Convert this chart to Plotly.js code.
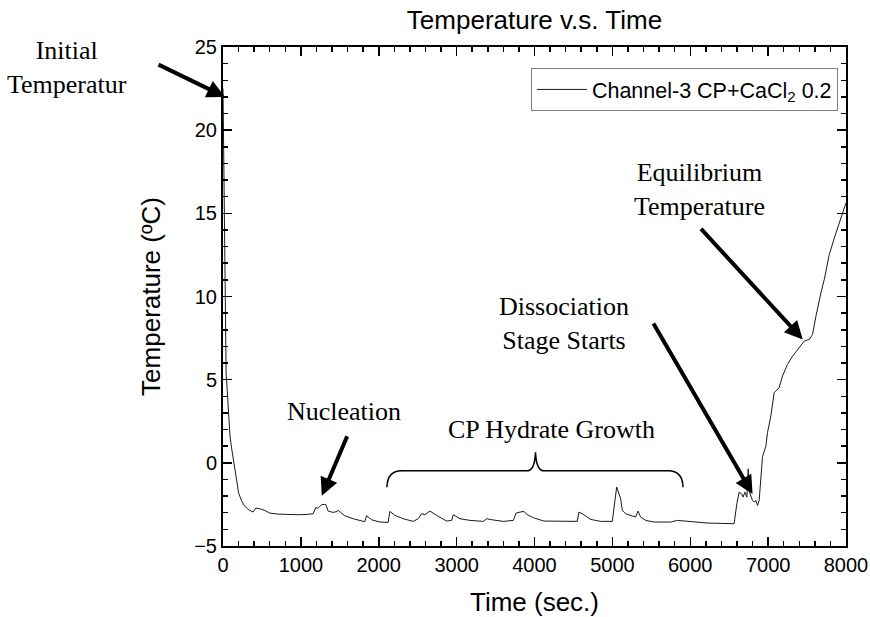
<!DOCTYPE html>
<html>
<head>
<meta charset="utf-8">
<script src="https://cdn.plot.ly/plotly-3.0.1.min.js"></script>
<style>html,body{margin:0;padding:0;background:#fff;}#chart{width:870px;height:617px;}</style>
</head>
<body>
<div id="chart"></div>
<script>
// ---- data ----
const timeSec = [0, 8, 15, 22, 30, 40, 55, 68, 90, 110, 130, 150, 171, 200, 236, 270, 300, 340, 386, 420,
  471, 536, 600, 700, 814, 900, 986, 1080, 1157, 1191, 1220, 1243, 1264, 1300, 1320, 1350, 1414, 1450, 1479, 1509,
  1564, 1671, 1750, 1821, 1843, 1907, 2014, 2121, 2143, 2207, 2314, 2443, 2507, 2550, 2593, 2657, 2743, 2871, 2936, 2957,
  3043, 3171, 3343, 3386, 3450, 3600, 3729, 3763, 3814, 3866, 3900, 3986, 4120, 4334, 4549, 4570, 4613, 4720, 4849, 4999,
  5042, 5055, 5085, 5106, 5128, 5170, 5299, 5329, 5363, 5428, 5535, 5749, 5835, 5921, 6049, 6221, 6564, 6598, 6628, 6658,
  6679, 6701, 6727, 6744, 6761, 6799, 6821, 6842, 6864, 6885, 6928, 6971, 6992, 7035, 7078, 7099, 7142, 7185, 7249, 7314,
  7399, 7464, 7528, 7571, 7614, 7657, 7678, 7721, 7785, 7850, 7914, 7957, 7999];
const tempC = [22.5, 19, 14, 10, 7.5, 5.4, 4.3, 3.4, 1.6, 0.9, 0.3, -0.4, -1.06, -1.8, -2.26, -2.55, -2.7, -2.85, -2.96, -2.72,
  -2.76, -2.86, -3.02, -3.08, -3.1, -3.12, -3.12, -3.1, -3.06, -2.7, -2.72, -2.62, -2.52, -2.5, -2.5, -2.9, -2.98, -2.94, -2.86, -2.98,
  -3.18, -3.36, -3.46, -3.54, -3.18, -3.42, -3.56, -3.58, -2.92, -3.16, -3.36, -3.52, -3.36, -3.06, -3.12, -2.9, -3.16, -3.5, -3.46, -3.12,
  -3.36, -3.46, -3.52, -3.36, -3.42, -3.52, -3.46, -3.02, -2.96, -2.92, -3.1, -3.3, -3.5, -3.52, -3.52, -2.96, -3.06, -3.4, -3.52, -3.52,
  -2.06, -1.46, -1.86, -2.16, -2.86, -3.06, -3.26, -2.9, -3.26, -3.46, -3.56, -3.56, -3.46, -3.5, -3.58, -3.62, -3.66, -2.46, -1.76, -1.86,
  -2.06, -1.76, -2.06, -0.36, -1.76, -2.26, -2.36, -2.26, -2.56, -2.26, 0.38, 1.0, 1.82, 2.82, 4.22, 4.32, 4.52, 5.22, 5.92, 6.42,
  6.92, 7.32, 7.42, 7.72, 8.82, 9.82, 10.22, 11.02, 12.52, 13.52, 14.42, 15.12, 15.62];
const seriesName = 'Channel-3 CP+CaCl<sub>2</sub> 0.2';
const xTickVals = [0, 1000, 2000, 3000, 4000, 5000, 6000, 7000, 8000];
const yTickVals = [-5, 0, 5, 10, 15, 20, 25];

// annotation labels (data coordinates; the first one lies left of the axes, so it uses paper coordinates)
const initialLabel = 'Initial<br>Temperatur';
const initialLabelPaper = [-0.2504, 0.959];
const labelTexts = ['Nucleation', 'CP Hydrate Growth', 'Dissociation<br>Stage Starts', 'Equilibrium<br>Temperature'];
const labelX = [1556, 4219, 4373, 6122];
const labelY = [3.1, 2.02, 8.38, 16.42];
const arrowTipX = [26, 1269, 6800, 7444];
const arrowTipY = [22.0, -1.98, -1.87, 7.42];
const arrowTailDx = [-68, 26, -100, -103];
const arrowTailDy = [-33, -61, -172, -112];
// brace over the hydrate-growth period
const braceStart = 2105, braceMid = 4013, braceEnd = 5907;
const braceLow = -1.47, braceLevel = -0.48, bracePeak = 0.63;

const sans = 'Liberation Sans, Arial, sans-serif';
const axisFont = {family: sans, size: 20, color: '#000'};
const serif = {family: 'Liberation Serif, Times New Roman, serif', size: 26, color: '#000'};

const annotations = [{x: initialLabelPaper[0], y: initialLabelPaper[1], xref: 'paper', yref: 'paper',
  text: initialLabel, showarrow: false, font: serif, xanchor: 'center', yanchor: 'middle'}];
labelTexts.forEach((t, i) => {
  annotations.push({x: labelX[i], y: labelY[i], xref: 'x', yref: 'y', text: t, showarrow: false,
    font: serif, xanchor: 'center', yanchor: 'middle'});
});
arrowTipX.forEach((x, i) => {
  annotations.push({x: x, y: arrowTipY[i], xref: 'x', yref: 'y', text: '', showarrow: true,
    ax: arrowTailDx[i], ay: arrowTailDy[i], axref: 'pixel', ayref: 'pixel',
    arrowhead: 2, arrowsize: 0.9, arrowwidth: 4, arrowcolor: '#000', standoff: 0});
});

const bracePath = `M ${braceStart},${braceLow} Q ${braceStart + 5},${braceLevel} ${braceStart + 190},${braceLevel} ` +
  `L ${braceMid - 110},${braceLevel} Q ${braceMid - 10},${braceLevel} ${braceMid},${bracePeak} ` +
  `Q ${braceMid + 10},${braceLevel} ${braceMid + 110},${braceLevel} L ${braceEnd - 190},${braceLevel} ` +
  `Q ${braceEnd - 5},${braceLevel} ${braceEnd},${braceLow}`;

const trace = {
  x: timeSec, y: tempC, type: 'scatter', mode: 'lines', name: seriesName,
  line: {color: '#1a1a1a', width: 1}, showlegend: true
};

const layout = {
  width: 870, height: 617,
  margin: {l: 223, r: 24, t: 47, b: 71, pad: 0},
  paper_bgcolor: '#fff', plot_bgcolor: '#fff',
  title: {text: 'Temperature v.s. Time', x: 0.5, xref: 'paper', y: 0.968, yref: 'container', yanchor: 'middle',
    font: {family: sans, size: 26, color: '#000'}},
  showlegend: true,
  legend: {x: 0.987, y: 0.958, xanchor: 'right', yanchor: 'top', bgcolor: '#fff',
    bordercolor: '#808080', borderwidth: 1, font: {family: sans, size: 21.5, color: '#000'},
    itemwidth: 50},
  xaxis: {
    range: [0, 8000], tickvals: xTickVals, ticks: 'inside', ticklen: 9, tickwidth: 1.5, tickcolor: '#000',
    showline: true, linecolor: '#000', linewidth: 2, mirror: 'ticks', showgrid: false, zeroline: false,
    tickfont: axisFont,
    minor: {dtick: 200, ticks: 'inside', ticklen: 5, tickwidth: 1.5, tickcolor: '#000', showgrid: false},
    title: {text: 'Time (sec.)', font: {family: sans, size: 26, color: '#000'}, standoff: 18},
    automargin: false
  },
  yaxis: {
    range: [-5, 25], tickvals: yTickVals, ticks: 'inside', ticklen: 9, tickwidth: 1.5, tickcolor: '#000',
    showline: true, linecolor: '#000', linewidth: 2, mirror: 'ticks', showgrid: false, zeroline: false,
    tickfont: axisFont,
    minor: {dtick: 1, ticks: 'inside', ticklen: 5, tickwidth: 1.5, tickcolor: '#000', showgrid: false},
    title: {text: 'Temperature (ºC)', font: {family: sans, size: 26, color: '#000'}, standoff: 26},
    automargin: false
  },
  shapes: [{type: 'path', xref: 'x', yref: 'y', path: bracePath, line: {color: '#000', width: 1.5}}],
  annotations: annotations
};

Plotly.newPlot('chart', [trace], layout, {displayModeBar: false, staticPlot: true});
</script>
</body>
</html>
